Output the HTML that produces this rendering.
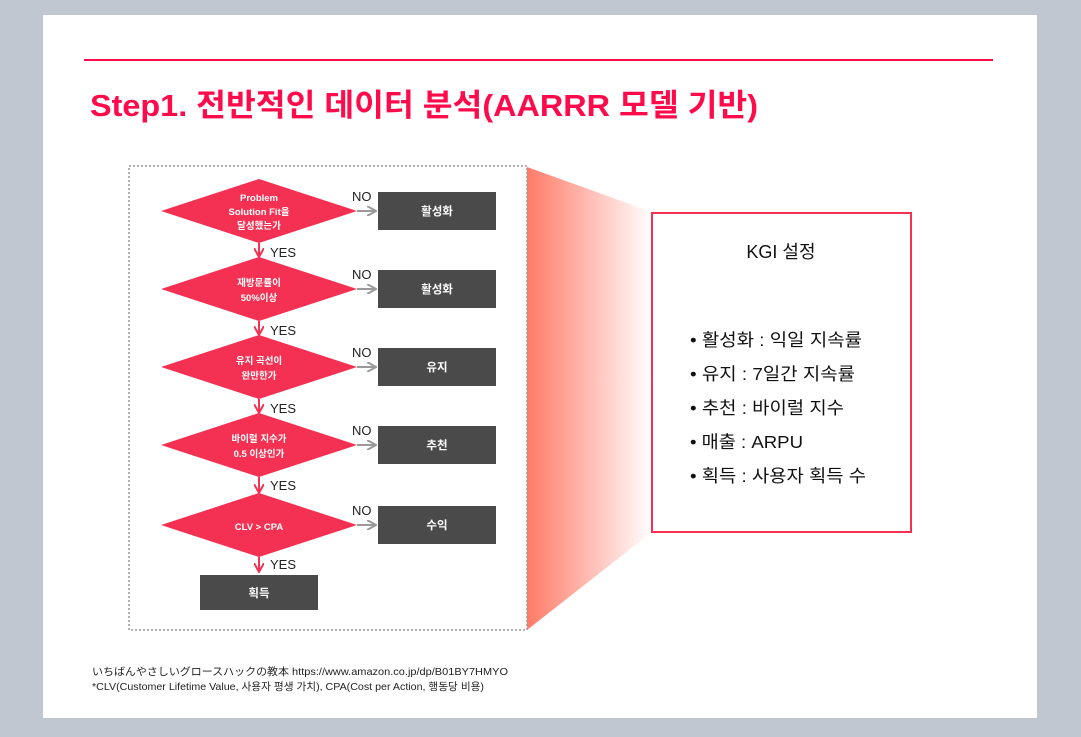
<!DOCTYPE html>
<html><head><meta charset="utf-8"><style>
html,body{margin:0;padding:0;width:1081px;height:737px;overflow:hidden;background:#c1c7d0;}
svg{display:block;font-family:"Liberation Sans","Noto Sans CJK KR",sans-serif;}
</style></head><body>
<svg width="1081" height="737" viewBox="0 0 1081 737" xmlns="http://www.w3.org/2000/svg">
<defs>
<linearGradient id="g" x1="0" x2="1" y1="0" y2="0">
<stop offset="0" stop-color="#ff7b68"/><stop offset="1" stop-color="#ffffff"/>
</linearGradient>
<marker id="ar" viewBox="0 0 10 10" refX="9" refY="5" markerWidth="10" markerHeight="10" markerUnits="userSpaceOnUse" orient="auto"><path d="M0,0 L9,5 L0,10" fill="none" stroke="#f43152" stroke-width="2"/></marker>
<marker id="ag" viewBox="0 0 10 10" refX="9" refY="5" markerWidth="10" markerHeight="10" markerUnits="userSpaceOnUse" orient="auto"><path d="M0,0 L9,5 L0,10" fill="none" stroke="#9a9a9a" stroke-width="2"/></marker>
</defs>
<rect x="43" y="15" width="994" height="703" fill="#fff"/>
<line x1="84" y1="60" x2="993" y2="60" stroke="#ff0a4a" stroke-width="2"/>
<text x="90" y="116" font-size="31" font-weight="bold" fill="#ff0a4a" textLength="668" lengthAdjust="spacingAndGlyphs">Step1. 전반적인 데이터 분석(AARRR 모델 기반)</text>
<polygon points="527,167 652,212 652,532 527,630" fill="url(#g)"/>
<rect x="129" y="166" width="398" height="464" fill="#fff" stroke="#9a9a9a" stroke-width="1.5" stroke-dasharray="2,2"/>
<g font-size="9.5" font-weight="bold" fill="#fff" text-anchor="middle">
<polygon points="161,211 259,179 357,211 259,243" fill="#f43152"/>
<text x="259" y="201">Problem</text><text x="259" y="215">Solution Fit을</text><text x="259" y="229">달성했는가</text>
<polygon points="161,289 259,257 357,289 259,321" fill="#f43152"/>
<text x="259" y="286">재방문률이</text><text x="259" y="301">50%이상</text>
<polygon points="161,367 259,335 357,367 259,399" fill="#f43152"/>
<text x="259" y="364">유지 곡선이</text><text x="259" y="379">완만한가</text>
<polygon points="161,445 259,413 357,445 259,477" fill="#f43152"/>
<text x="259" y="442">바이럴 지수가</text><text x="259" y="457">0.5 이상인가</text>
<polygon points="161,525 259,493 357,525 259,557" fill="#f43152"/>
<text x="259" y="530">CLV &gt; CPA</text>
</g>
<g fill="#4a4a4a">
<rect x="378" y="192" width="118" height="38"/><rect x="378" y="270" width="118" height="38"/>
<rect x="378" y="348" width="118" height="38"/><rect x="378" y="426" width="118" height="38"/>
<rect x="378" y="506" width="118" height="38"/><rect x="200" y="575" width="118" height="35"/>
</g>
<g font-size="11.5" font-weight="bold" fill="#fff" text-anchor="middle">
<text x="437" y="215">활성화</text><text x="437" y="293">활성화</text><text x="437" y="371">유지</text>
<text x="437" y="449">추천</text><text x="437" y="529">수익</text><text x="259" y="597">획득</text>
</g>
<g stroke="#9a9a9a" stroke-width="2" marker-end="url(#ag)">
<line x1="357" y1="211" x2="376" y2="211"/><line x1="357" y1="289" x2="376" y2="289"/>
<line x1="357" y1="367" x2="376" y2="367"/><line x1="357" y1="445" x2="376" y2="445"/>
<line x1="357" y1="525" x2="376" y2="525"/>
</g>
<g stroke="#f43152" stroke-width="2" marker-end="url(#ar)">
<line x1="259" y1="243" x2="259" y2="257"/><line x1="259" y1="321" x2="259" y2="335"/>
<line x1="259" y1="399" x2="259" y2="413"/><line x1="259" y1="477" x2="259" y2="493"/>
<line x1="259" y1="557" x2="259" y2="572"/>
</g>
<g font-size="13" fill="#222">
<text x="352" y="201">NO</text><text x="352" y="279">NO</text><text x="352" y="357">NO</text><text x="352" y="435">NO</text><text x="352" y="515">NO</text>
<text x="270" y="257">YES</text><text x="270" y="335">YES</text><text x="270" y="413">YES</text><text x="270" y="490">YES</text><text x="270" y="569">YES</text>
</g>
<rect x="652" y="213" width="259" height="319" fill="#fff" stroke="#f43152" stroke-width="2"/>
<text x="781" y="258" font-size="18" fill="#111" text-anchor="middle">KGI 설정</text>
<g font-size="17.5" fill="#111">
<text x="690" y="346" textLength="172" lengthAdjust="spacingAndGlyphs">•  활성화 : 익일 지속률</text>
<text x="690" y="380" textLength="165" lengthAdjust="spacingAndGlyphs">•  유지 : 7일간 지속률</text>
<text x="690" y="414" textLength="154" lengthAdjust="spacingAndGlyphs">•  추천 : 바이럴 지수</text>
<text x="690" y="448" textLength="113" lengthAdjust="spacingAndGlyphs">•  매출 : ARPU</text>
<text x="690" y="482" textLength="176" lengthAdjust="spacingAndGlyphs">•  획득 : 사용자 획득 수</text>
</g>
<g font-size="10.5" fill="#222" font-family="'Liberation Sans','Noto Sans CJK JP',sans-serif">
<text x="92" y="675" textLength="416" lengthAdjust="spacingAndGlyphs">いちばんやさしいグロースハックの教本  https://www.amazon.co.jp/dp/B01BY7HMYO</text>
<text x="92" y="690" textLength="392" lengthAdjust="spacingAndGlyphs" font-family="'Liberation Sans','Noto Sans CJK KR',sans-serif">*CLV(Customer Lifetime Value, 사용자 평생 가치), CPA(Cost per Action, 행동당 비용)</text>
</g>
</svg>
</body></html>
